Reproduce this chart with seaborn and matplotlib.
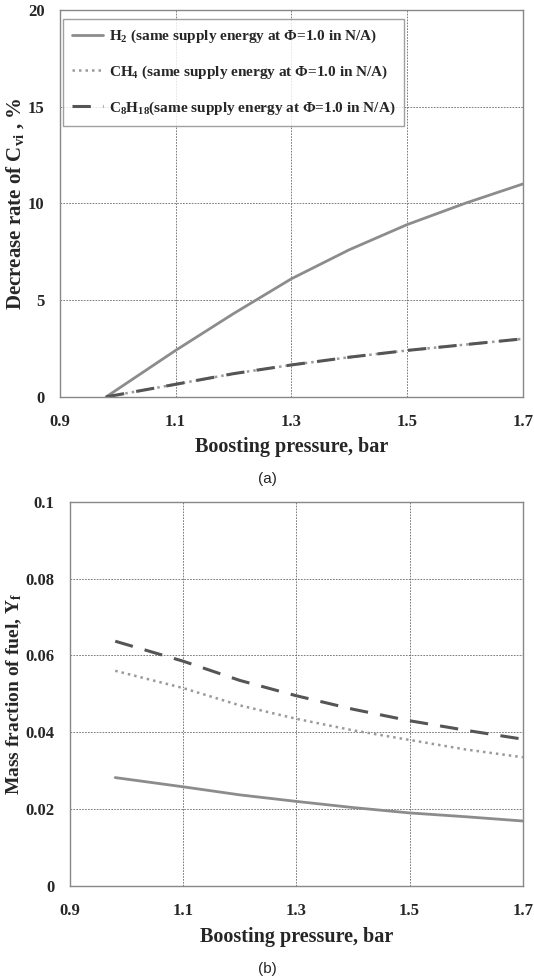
import matplotlib
matplotlib.use("Agg")
import matplotlib.pyplot as plt
import seaborn as sns
import pandas as pd

# ---- data ----
pressure = [0.98, 1.1, 1.2, 1.3, 1.4, 1.5, 1.6, 1.7]
cv_h2 = [0.0, 2.4, 4.3, 6.1, 7.6, 8.9, 10.0, 11.0]
cv_ch4 = [0.0, 0.65, 1.2, 1.65, 2.05, 2.4, 2.7, 3.0]
cv_c8h18 = [0.0, 0.65, 1.2, 1.65, 2.05, 2.4, 2.7, 3.0]
yf_h2 = [0.0282, 0.0258, 0.0237, 0.0220, 0.0204, 0.0190, 0.0180, 0.0169]
yf_ch4 = [0.0560, 0.0515, 0.0470, 0.0435, 0.0405, 0.0380, 0.0355, 0.0335]
yf_c8h18 = [0.0637, 0.0585, 0.0535, 0.0495, 0.0460, 0.0430, 0.0405, 0.0382]
labels = [r"H$_\mathregular{2}$ (same supply energy at $\mathregular{\Phi}$=1.0 in N/A)",
          r"CH$_\mathregular{4}$ (same supply energy at $\mathregular{\Phi}$=1.0 in N/A)",
          r"C$_\mathregular{8}$H$_\mathregular{18}$(same supply energy at $\mathregular{\Phi}$=1.0 in N/A)"]
x_ticks = [0.9, 1.1, 1.3, 1.5, 1.7]
x_tick_labels = ["0.9", "1.1", "1.3", "1.5", "1.7"]
ya_ticks = [0, 5, 10, 15, 20]
yb_ticks = [0, 0.02, 0.04, 0.06, 0.08, 0.1]
yb_tick_labels = ["0", "0.02", "0.04", "0.06", "0.08", "0.1"]

sns.set_style("white")
plt.rcParams["font.family"] = ["Liberation Serif", "DejaVu Serif"]
plt.rcParams["font.weight"] = "bold"
plt.rcParams["mathtext.fontset"] = "custom"
plt.rcParams["mathtext.rm"] = "Liberation Serif:bold"
plt.rcParams["mathtext.it"] = "Liberation Serif:bold"
plt.rcParams["mathtext.bf"] = "Liberation Serif:bold"

styles = [dict(color="#8c8c8c", ls="-", lw=2.0),
          dict(color="#9a9a9a", ls=(0, (1, 1.6)), lw=1.8),
          dict(color="#555555", ls=(0, (6, 4)), lw=2.2)]

fig = plt.figure(figsize=(5.34, 9.8), dpi=100)
ax_a = fig.add_axes([0.112, 0.595, 0.867, 0.395])
ax_b = fig.add_axes([0.131, 0.096, 0.848, 0.392])

def style_axes(ax):
    for s in ax.spines.values():
        s.set_color("#888888")
        s.set_linewidth(1.0)
    ax.grid(True, color="#666666", ls=(0, (2, 1.5)), lw=0.6)
    ax.tick_params(axis="x", length=0, labelsize=12, pad=12)
    ax.tick_params(axis="y", length=0, labelsize=12, pad=11)
    for lab in ax.get_xticklabels() + ax.get_yticklabels():
        lab.set_fontweight("bold")

# (a)
dfa = pd.DataFrame({"p": pressure, "h2": cv_h2, "ch4": cv_ch4, "c8": cv_c8h18})
for col, lab, st in zip(["h2", "ch4", "c8"], labels, styles):
    sns.lineplot(data=dfa, x="p", y=col, ax=ax_a, label=lab, **st)
ax_a.set_xlim(0.9, 1.7)
ax_a.set_ylim(0, 20)
ax_a.set_xticks(x_ticks)
ax_a.set_xticklabels(x_tick_labels)
ax_a.set_yticks(ya_ticks)
ax_a.set_xlabel("Boosting pressure, bar", fontsize=14.5, fontweight="bold", labelpad=5)
ax_a.set_ylabel(r"Decrease rate of C$_\mathregular{vi}$ , %", fontsize=15, fontweight="bold", labelpad=1)
style_axes(ax_a)
leg = ax_a.legend(loc="upper left", fontsize=11, frameon=True, fancybox=False,
                  edgecolor="#888888", handlelength=2.0, handletextpad=0.4,
                  labelspacing=1.2, borderpad=0.6, borderaxespad=0.2,
                  bbox_to_anchor=(0.0, 0.985))
leg.get_frame().set_linewidth(1.0)
for t in leg.get_texts():
    t.set_fontweight("bold")

# (b)
dfb = pd.DataFrame({"p": pressure, "h2": yf_h2, "ch4": yf_ch4, "c8": yf_c8h18})
for col, st in zip(["h2", "ch4", "c8"], styles):
    sns.lineplot(data=dfb, x="p", y=col, ax=ax_b, legend=False, **st)
ax_b.set_xlim(0.9, 1.7)
ax_b.set_ylim(0, 0.1)
ax_b.set_xticks(x_ticks)
ax_b.set_xticklabels(x_tick_labels)
ax_b.set_yticks(yb_ticks)
ax_b.set_yticklabels(yb_tick_labels)
ax_b.set_xlabel("Boosting pressure, bar", fontsize=14.5, fontweight="bold", labelpad=6)
ax_b.set_ylabel(r"Mass fraction of fuel, Y$_\mathregular{f}$", fontsize=14, fontweight="bold", labelpad=1)
style_axes(ax_b)

fig.text(0.5, 1 - 479 / 980, "(a)", ha="center", va="center", fontsize=11,
         family=["Liberation Sans", "DejaVu Sans"], fontweight="normal")
fig.text(0.5, 1 - 969 / 980, "(b)", ha="center", va="center", fontsize=11,
         family=["Liberation Sans", "DejaVu Sans"], fontweight="normal")

fig.savefig("out.png", dpi=100)
